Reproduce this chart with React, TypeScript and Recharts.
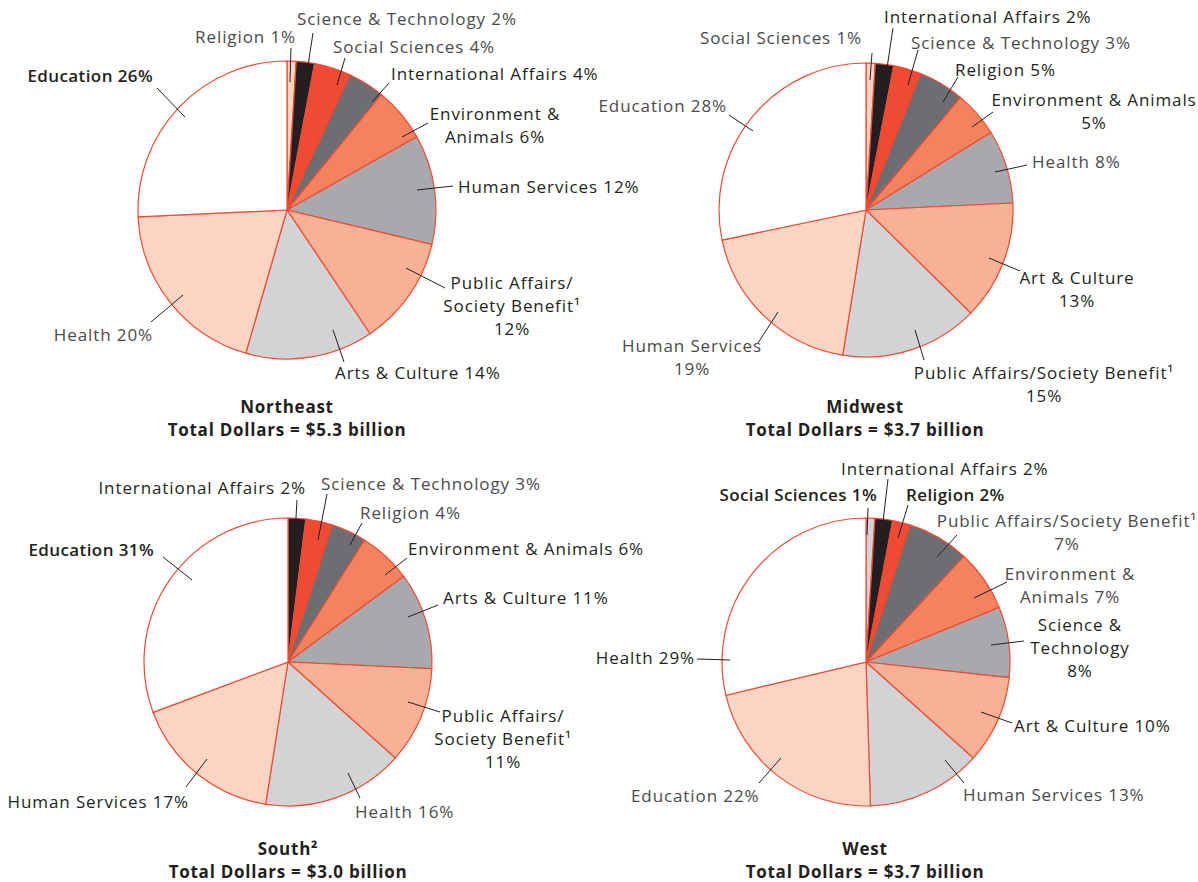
import { PieChart, Pie, Cell } from 'recharts';

// category order = slice order, clockwise from 12 o'clock
const northeastNames = ['Religion', 'Science & Technology', 'Social Sciences', 'International Affairs', 'Environment & Animals', 'Human Services', 'Public Affairs/Society Benefit¹', 'Arts & Culture', 'Health', 'Education'];
const northeastValues = [1, 2, 4, 4, 6, 12, 12, 14, 20, 26];

const midwestNames = ['Social Sciences', 'International Affairs', 'Science & Technology', 'Religion', 'Environment & Animals', 'Health', 'Art & Culture', 'Public Affairs/Society Benefit¹', 'Human Services', 'Education'];
const midwestValues = [1, 2, 3, 5, 5, 8, 13, 15, 19, 28];

const southNames = ['International Affairs', 'Science & Technology', 'Religion', 'Environment & Animals', 'Arts & Culture', 'Public Affairs/Society Benefit¹', 'Health', 'Human Services', 'Education'];
const southValues = [2, 3, 4, 6, 11, 11, 16, 17, 31];

const westNames = ['Social Sciences', 'International Affairs', 'Religion', 'Public Affairs/Society Benefit¹', 'Environment & Animals', 'Science & Technology', 'Art & Culture', 'Human Services', 'Education', 'Health'];
const westValues = [1, 2, 2, 7, 7, 8, 10, 13, 22, 29];

const regionNames = ['Northeast', 'Midwest', 'South²', 'West'];
const regionTotals = ['5.3', '3.7', '3.0', '3.7'];

const BLACK = '#231f20';
const RED = '#ef4a32';
const DGRAY = '#6d6e71';
const ORANGE = '#f4825e';
const MGRAY = '#a7a9ac';
const SALMON = '#f8b196';
const LGRAY = '#d1d3d4';
const PINK = '#fad5c4';
const WHITE = '#ffffff';

const FONT = "'Open Sans', sans-serif";
const LINE_H = 23;

const textStyles: Record<string, { fill: string; fontWeight: number; spacing: number }> = {
  l: { fill: '#4a4a4c', fontWeight: 400, spacing: 0.9 },
  d: { fill: '#231f20', fontWeight: 500, spacing: 0.9 },
  b: { fill: '#231f20', fontWeight: 600, spacing: 0.4 },
};

type LabelSpec = {
  t: [number, number]; // text position, relative to pie center
  a: 'start' | 'middle' | 'end';
  w: 'l' | 'd' | 'b';
  l: [number, number, number, number]; // leader line, relative to pie center
  br?: string[];
};

const northeastLabels: LabelSpec[] = [
  { t: [9, -167], a: 'end', w: 'l', l: [4, -162, 3, -128] },
  { t: [10, -185], a: 'start', w: 'l', l: [26, -177, 20, -138] },
  { t: [46, -157], a: 'start', w: 'l', l: [58, -152, 50, -125] },
  { t: [104, -130], a: 'start', w: 'd', l: [102, -127, 85, -108] },
  { t: [208, -90], a: 'middle', w: 'd', l: [141, -87, 115, -73], br: ['&'] },
  { t: [171, -17], a: 'start', w: 'd', l: [166, -24, 130, -20] },
  { t: [225, 79], a: 'middle', w: 'd', l: [158, 78, 119, 58], br: ['/', '¹'] },
  { t: [48, 169], a: 'start', w: 'd', l: [57, 152, 46, 120] },
  { t: [-134, 131], a: 'end', w: 'l', l: [-136, 112, -104, 85] },
  { t: [-134, -128], a: 'end', w: 'b', l: [-130, -122, -102, -93] },
];

const midwestLabels: LabelSpec[] = [
  { t: [-4, -166], a: 'end', w: 'l', l: [6, -157, 4, -130] },
  { t: [18, -187], a: 'start', w: 'd', l: [27, -182, 21, -142] },
  { t: [45, -161], a: 'start', w: 'l', l: [52, -160, 42, -125] },
  { t: [89, -134], a: 'start', w: 'd', l: [92, -133, 77, -108] },
  { t: [228, -104], a: 'middle', w: 'd', l: [127, -98, 106, -83], br: ['Animals'] },
  { t: [166, -42], a: 'start', w: 'l', l: [161, -45, 129, -38] },
  { t: [211, 74], a: 'middle', w: 'd', l: [154, 61, 123, 48], br: ['Culture'] },
  { t: [178, 169], a: 'middle', w: 'd', l: [58, 150, 49, 120], br: ['¹'] },
  { t: [-174, 142], a: 'middle', w: 'l', l: [-108, 133, -88, 102], br: ['Services'] },
  { t: [-139, -98], a: 'end', w: 'l', l: [-137, -95, -113, -79] },
];

const southLabels: LabelSpec[] = [
  { t: [18, -168], a: 'end', w: 'd', l: [9, -162, 7, -127] },
  { t: [33, -172], a: 'start', w: 'l', l: [39, -168, 30, -122] },
  { t: [72, -143], a: 'start', w: 'l', l: [74, -139, 62, -117] },
  { t: [120, -107], a: 'start', w: 'd', l: [119, -104, 97, -87] },
  { t: [155, -58], a: 'start', w: 'd', l: [150, -57, 120, -45] },
  { t: [215, 60], a: 'middle', w: 'd', l: [152, 50, 120, 40], br: ['/', '¹'] },
  { t: [67, 156], a: 'start', w: 'l', l: [72, 136, 60, 111] },
  { t: [-99, 146], a: 'end', w: 'd', l: [-102, 125, -81, 97] },
  { t: [-134, -106], a: 'end', w: 'b', l: [-125, -105, -96, -82] },
];

const westLabels: LabelSpec[] = [
  { t: [11, -161], a: 'end', w: 'b', l: [2, -154, 1, -127] },
  { t: [-25, -187], a: 'start', w: 'd', l: [22, -183, 17, -140] },
  { t: [40, -161], a: 'start', w: 'b', l: [42, -157, 32, -124] },
  { t: [201, -135], a: 'middle', w: 'l', l: [91, -127, 71, -105], br: ['¹'] },
  { t: [204, -82], a: 'middle', w: 'l', l: [141, -80, 108, -64], br: ['&'] },
  { t: [214, -31], a: 'middle', w: 'd', l: [158, -21, 125, -17], br: ['&', 'Technology'] },
  { t: [148, 70], a: 'start', w: 'd', l: [146, 61, 115, 50] },
  { t: [97, 139], a: 'start', w: 'l', l: [98, 121, 79, 98] },
  { t: [-235, 140], a: 'start', w: 'l', l: [-107, 121, -85, 96] },
  { t: [-171, 2], a: 'end', w: 'd', l: [-169, -3, -136, -2] },
];

const splitLines = (full: string, breaks?: string[]) => {
  if (!breaks) return [full];
  const out: string[] = [];
  let rest = full;
  breaks.forEach((b) => {
    const idx = rest.indexOf(b);
    if (idx < 0) return;
    out.push(rest.slice(0, idx + b.length).trim());
    rest = rest.slice(idx + b.length);
  });
  out.push(rest.trim());
  return out;
};

const makeLabel = (names: string[], values: number[], specs: LabelSpec[]) => (props: any) => {
  const { cx, cy, index } = props;
  const spec = specs[index];
  const lines = splitLines(`${names[index]} ${values[index]}%`, spec.br);
  const st = textStyles[spec.w];
  const tx = cx + spec.t[0];
  return (
    <g key={`lbl-${index}`}>
      <line
        x1={cx + spec.l[0]}
        y1={cy + spec.l[1]}
        x2={cx + spec.l[2]}
        y2={cy + spec.l[3]}
        stroke="#231f20"
        strokeWidth={1}
      />
      <text
        x={tx}
        y={cy + spec.t[1]}
        textAnchor={spec.a}
        fontFamily={FONT}
        fontSize={17}
        letterSpacing={st.spacing}
        fill={st.fill}
        fontWeight={st.fontWeight}
      >
        {lines.map((ln, i) => (
          <tspan key={i} x={tx} dy={i === 0 ? 0 : LINE_H}>
            {ln}
          </tspan>
        ))}
      </text>
    </g>
  );
};

const pies = [
  { names: northeastNames, values: northeastValues, labels: northeastLabels, cx: 287, cy: 210, r: 149, colors: [PINK, BLACK, RED, DGRAY, ORANGE, MGRAY, SALMON, LGRAY, PINK, WHITE] },
  { names: midwestNames, values: midwestValues, labels: midwestLabels, cx: 866, cy: 210, r: 147, colors: [PINK, BLACK, RED, DGRAY, ORANGE, MGRAY, SALMON, LGRAY, PINK, WHITE] },
  { names: southNames, values: southValues, labels: southLabels, cx: 288, cy: 662, r: 144, colors: [BLACK, RED, DGRAY, ORANGE, MGRAY, SALMON, LGRAY, PINK, WHITE] },
  { names: westNames, values: westValues, labels: westLabels, cx: 866, cy: 662, r: 144, colors: [LGRAY, BLACK, RED, DGRAY, ORANGE, MGRAY, SALMON, LGRAY, PINK, WHITE] },
];

const titlePos = [
  [287, 413],
  [865, 413],
  [288, 855],
  [865, 855],
];

export default function App() {
  return (
    <div style={{ position: 'absolute', left: 0, top: 0, background: '#fff' }}>
      <PieChart width={1198} height={882} margin={{ top: 0, right: 0, bottom: 0, left: 0 }}>
        {pies.map((p, k) => (
          <Pie
            key={k}
            data={p.names.map((name, i) => ({ name, value: p.values[i] }))}
            dataKey="value"
            nameKey="name"
            cx={p.cx}
            cy={p.cy}
            outerRadius={p.r}
            startAngle={90}
            endAngle={-270}
            stroke="#ef4a32"
            strokeWidth={1.2}
            isAnimationActive={false}
            labelLine={false}
            label={makeLabel(p.names, p.values, p.labels)}
          >
            {p.values.map((_, i) => (
              <Cell key={i} fill={p.colors[i]} />
            ))}
          </Pie>
        ))}
        {regionNames.map((name, k) => (
          <text
            key={`t-${k}`}
            x={titlePos[k][0]}
            y={titlePos[k][1]}
            textAnchor="middle"
            fontFamily={FONT}
            fontSize={17}
            fontWeight={700}
            letterSpacing={0.75}
            fill="#231f20"
          >
            <tspan x={titlePos[k][0]} dy={0}>{name}</tspan>
            <tspan x={titlePos[k][0]} dy={23}>{`Total Dollars = $${regionTotals[k]} billion`}</tspan>
          </text>
        ))}
      </PieChart>
    </div>
  );
}
